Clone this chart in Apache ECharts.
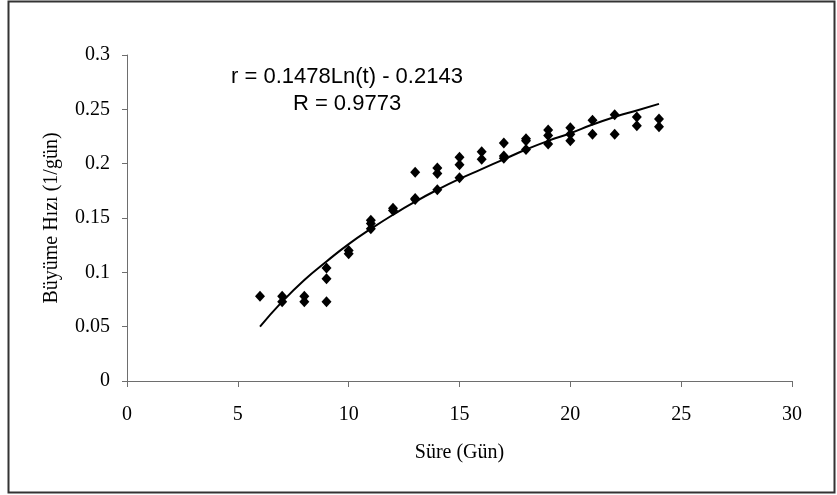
<!DOCTYPE html>
<html>
<head>
<meta charset="utf-8">
<script src="https://cdn.jsdelivr.net/npm/echarts@6/dist/echarts.min.js"></script>
<style>
html,body{margin:0;padding:0;background:#fff;}
#chart{width:837px;height:495px;}
</style>
</head>
<body>
<div id="chart"></div>
<script>
const obsDays  = [6, 7, 7, 8, 8, 9, 9, 9, 10, 10, 11, 11, 11, 12, 12, 13, 13, 13, 14, 14, 14, 15, 15, 15, 16, 16, 17, 17, 17, 18, 18, 18, 19, 19, 19, 20, 20, 20, 21, 21, 22, 22, 23, 23, 24, 24];
const obsRates = [0.078, 0.078, 0.073, 0.078, 0.073, 0.104, 0.094, 0.073, 0.120, 0.117, 0.148, 0.145, 0.140, 0.159, 0.157, 0.192, 0.168, 0.167, 0.196, 0.191, 0.176, 0.206, 0.199, 0.187, 0.211, 0.204, 0.219, 0.207, 0.205, 0.223, 0.221, 0.213, 0.231, 0.226, 0.218, 0.233, 0.227, 0.221, 0.240, 0.227, 0.245, 0.227, 0.243, 0.235, 0.241, 0.234];
// Trend line values
const trendDays  = [6, 7, 8, 9, 10, 11, 12, 13, 14, 15, 16, 17, 18, 19, 20, 21, 22, 23, 24];
const trendRates = [0.050, 0.073, 0.093, 0.110, 0.126, 0.140, 0.153, 0.165, 0.176, 0.186, 0.195, 0.204, 0.213, 0.221, 0.228, 0.236, 0.243, 0.249, 0.255];
const xTicks = [0, 5, 10, 15, 20, 25, 30];
const yTicks = [0, 0.05, 0.1, 0.15, 0.2, 0.25, 0.3];
const equationLines = ['r = 0.1478Ln(t) - 0.2143', 'R = 0.9773'];

const chart = echarts.init(document.getElementById('chart'), null, {renderer: 'canvas'});
const serif = '"Liberation Serif", "Times New Roman", serif';
const sans = '"Liberation Sans", Arial, sans-serif';
const axisCol = '#6e6e6e';
chart.setOption({
  animation: false,
  backgroundColor: '#ffffff',
  grid: {left: 127, right: 45, top: 55, bottom: 114},
  xAxis: {
    type: 'value', min: xTicks[0], max: xTicks[xTicks.length - 1], interval: 5,
    name: 'Süre (Gün)', nameLocation: 'middle', nameGap: 62,
    nameTextStyle: {fontFamily: serif, fontSize: 20, color: '#000'},
    axisLine: {show: true, lineStyle: {color: axisCol, width: 1}},
    axisTick: {show: true, inside: false, length: 6, lineStyle: {color: axisCol}},
    axisLabel: {fontFamily: serif, fontSize: 20, color: '#000', margin: 24},
    splitLine: {show: false}
  },
  yAxis: {
    type: 'value', min: yTicks[0], max: yTicks[yTicks.length - 1], interval: 0.05,
    name: 'Büyüme Hızı (1/gün)', nameLocation: 'middle', nameGap: 65, nameRotate: 90,
    nameTextStyle: {fontFamily: serif, fontSize: 20, color: '#000'},
    axisLine: {show: true, lineStyle: {color: axisCol, width: 1}},
    axisTick: {show: true, inside: false, length: 5, lineStyle: {color: axisCol}},
    axisLabel: {fontFamily: serif, fontSize: 20, color: '#000', margin: 17,
      formatter: v => String(+v.toFixed(2))},
    splitLine: {show: false}
  },
  series: [
    {
      type: 'line', data: trendDays.map((d, i) => [d, trendRates[i]]),
      smooth: true, showSymbol: false, symbol: 'none',
      lineStyle: {color: '#000', width: 2}, z: 2
    },
    {
      type: 'scatter', data: obsDays.map((d, i) => [d, obsRates[i]]),
      symbol: 'diamond', symbolSize: [10, 11],
      itemStyle: {color: '#000', opacity: 1}, z: 3
    }
  ],
  graphic: [
    {type: 'rect', shape: {x: 8.5, y: 1.5, width: 826, height: 491},
     style: {fill: 'none', stroke: '#333', lineWidth: 2}, silent: true},
    {type: 'text', x: 347, y: 77,
     style: {text: equationLines[0], fontFamily: sans, fontSize: 22, fill: '#000',
             textAlign: 'center', textVerticalAlign: 'middle', align: 'center', verticalAlign: 'middle'}},
    {type: 'text', x: 347, y: 104,
     style: {text: equationLines[1], fontFamily: sans, fontSize: 22, fill: '#000',
             textAlign: 'center', textVerticalAlign: 'middle', align: 'center', verticalAlign: 'middle'}}
  ]
});
</script>
</body>
</html>
